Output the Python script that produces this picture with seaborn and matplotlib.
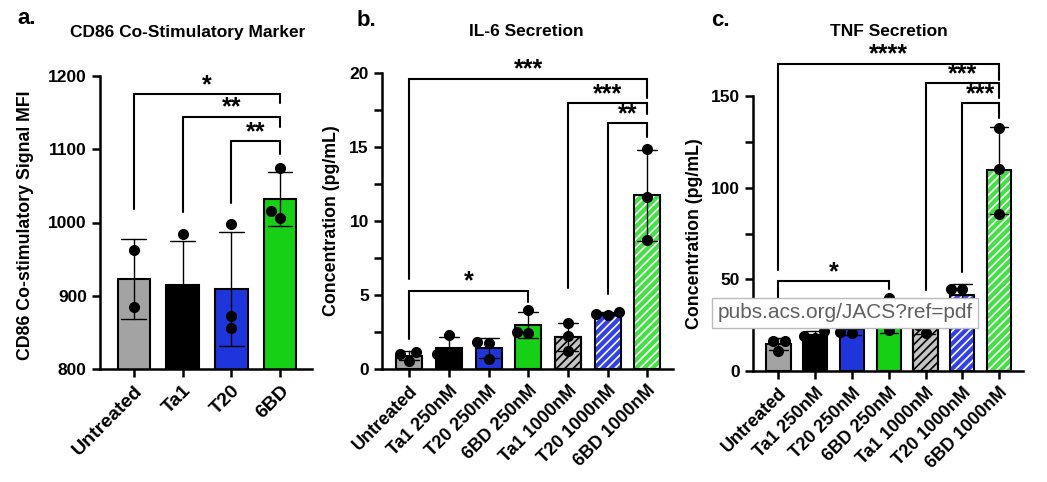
import numpy as np
import pandas as pd
import seaborn as sns
import matplotlib.pyplot as plt
from matplotlib.patches import Rectangle

# replicate values
cd86_groups = ["Untreated", "Ta1", "T20", "6BD"]
cd86_values = [[962, 884], [984, 880, 881], [998, 873, 856], [1074, 1006, 1016]]

conc_groups = ["Untreated", "Ta1 250nM", "T20 250nM", "6BD 250nM",
               "Ta1 1000nM", "T20 1000nM", "6BD 1000nM"]
il6_values = [[1.15, 0.55, 1.0], [2.3, 1.0, 0.95], [1.85, 1.75, 0.65],
              [4.0, 2.4, 2.5], [3.1, 2.25, 1.2], [3.65, 3.85, 3.75],
              [14.85, 11.65, 8.7]]
tnf_values = [[16.5, 16.5, 11.0], [18, 19, 22], [21, 21.5, 27],
              [22.5, 40, 27], [20.5, 25, 30], [45, 45, 34],
              [132.6, 110, 85.6]]

# significance brackets: (left group, right group, bracket y, left leg end, right leg end, label)
cd86_brackets = [(0, 3, 1175, 1018, 1163, "*"), (1, 3, 1144, 1015, 1130, "**"),
                 (2, 3, 1111, 1027, 1094, "**")]
il6_brackets = [(0, 6, 19.6, 6.1, 18.3, "***"), (4, 6, 17.95, 5.5, 17.2, "***"),
                (5, 6, 16.6, 5.1, 15.7, "**"), (0, 3, 5.3, 2.0, 4.5, "*")]
tnf_brackets = [(0, 6, 167.5, 55, 159, "****"), (4, 6, 157, 44, 149, "***"),
                (5, 6, 146, 54, 138, "***"), (0, 3, 49, 35, 45, "*")]

gray, black, blue, green = "#a3a3a3", "#000000", "#1f35dc", "#16d016"
cd86_colors = [gray, black, blue, green]
conc_colors = [gray, black, blue, green, "#c4c4c4", "#3240e8", "#45e045"]
conc_hatch_colors = [None, None, None, None, "black", "white", "white"]

sns.set_style("ticks")
plt.rcParams["font.family"] = ["Liberation Sans", "DejaVu Sans"]
plt.rcParams["font.weight"] = "bold"
plt.rcParams["axes.labelweight"] = "bold"
plt.rcParams["hatch.linewidth"] = 1.2
for key in ["text.color", "axes.labelcolor", "xtick.color", "ytick.color", "axes.edgecolor"]:
    plt.rcParams[key] = "black"


def panel(ax, groups, values, colors, hatch_colors, brackets, ylim, major, minor,
          ylabel, xfs):
    df = pd.DataFrame({"group": np.repeat(groups, [len(v) for v in values]),
                       "value": np.concatenate(values)})
    sns.barplot(data=df, x="group", y="value", hue="group", order=groups,
                hue_order=groups, palette=colors, saturation=1, errorbar="sd",
                capsize=0.5, width=0.66, edgecolor="black", linewidth=1.5,
                legend=False, err_kws={"color": "black", "linewidth": 1}, ax=ax)
    if hatch_colors:
        for bar, hc in zip(ax.patches, hatch_colors):
            if hc is None:
                continue
            bar.set_hatch("////")
            bar.set_edgecolor(hc)
            ax.add_patch(Rectangle(bar.get_xy(), bar.get_width(), bar.get_height(),
                                   fill=False, edgecolor="black", linewidth=1.5,
                                   zorder=bar.get_zorder()))
    sns.swarmplot(data=df, x="group", y="value", order=groups, color="black",
                  size=8, ax=ax, zorder=5)

    for i, j, y, yl, yr, lab in brackets:
        ax.plot([i, i, j, j], [yl, y, y, yr], color="black", lw=1.5,
                clip_on=False, solid_joinstyle="miter")
        ax.annotate(lab, xy=((i + j) / 2, y), xytext=(0, -2), textcoords="offset points",
                    ha="center", va="bottom", fontsize=18, fontweight="bold",
                    annotation_clip=False)

    n = len(groups)
    ax.set_xlim(-0.69, n - 1 + 0.65)
    ax.set_ylim(*ylim)
    ax.set_yticks(major)
    if minor is not None:
        ax.set_yticks(minor, minor=True)
    ax.set_xticks(range(n))
    ax.set_xticklabels(groups, rotation=45, ha="right", rotation_mode="anchor",
                       fontsize=xfs, fontweight="bold")
    ax.tick_params(axis="y", labelsize=12.5, width=1.8, length=6)
    ax.tick_params(axis="y", which="minor", width=1.8, length=6)
    ax.tick_params(axis="x", width=1.8, length=6)
    for side in ["top", "right"]:
        ax.spines[side].set_visible(False)
    for side in ["left", "bottom"]:
        ax.spines[side].set_linewidth(1.8)
    ax.set_xlabel("")
    ax.set_ylabel(ylabel, fontsize=12.8)


W, H = 1047, 482
fig = plt.figure(figsize=(W / 100, H / 100), dpi=100)
ax_a = fig.add_axes([100 / W, 1 - 369 / H, 212 / W, 293 / H])
ax_b = fig.add_axes([382 / W, 1 - 369 / H, 291 / W, 296 / H])
ax_c = fig.add_axes([753 / W, 1 - 371 / H, 270 / W, 275 / H])

panel(ax_a, cd86_groups, cd86_values, cd86_colors, None, cd86_brackets,
      (800, 1200), [800, 900, 1000, 1100, 1200], None,
      "CD86 Co-stimulatory Signal MFI", 14)
panel(ax_b, conc_groups, il6_values, conc_colors, conc_hatch_colors, il6_brackets,
      (0, 20), [0, 5, 10, 15, 20], [2.5, 7.5, 12.5, 17.5],
      "Concentration (pg/mL)", 13)
panel(ax_c, conc_groups, tnf_values, conc_colors, conc_hatch_colors, tnf_brackets,
      (0, 150), [0, 50, 100, 150], [25, 75, 125],
      "Concentration (pg/mL)", 13)

ax_a.yaxis.set_label_coords(-0.311, 0.49)
ax_b.yaxis.set_label_coords(-0.144, 0.5)
ax_c.yaxis.set_label_coords(-0.185, 0.5)

# panel letters and titles
fig.text(27 / W, 1 - 19 / H, "a.", fontsize=16, fontweight="bold", ha="center", va="center")
fig.text(366 / W, 1 - 20 / H, "b.", fontsize=16, fontweight="bold", ha="center", va="center")
fig.text(720 / W, 1 - 21 / H, "c.", fontsize=16, fontweight="bold", ha="center", va="center")
fig.text(188 / W, 1 - 32 / H, "CD86 Co-Stimulatory Marker", fontsize=12.5,
         fontweight="bold", ha="center", va="center")
fig.text(526 / W, 1 - 32 / H, "IL-6 Secretion", fontsize=12.5,
         fontweight="bold", ha="center", va="center")
fig.text(889 / W, 1 - 32 / H, "TNF Secretion", fontsize=12.5,
         fontweight="bold", ha="center", va="center")

# watermark box
fig.text(845 / W, 1 - 313 / H, "pubs.acs.org/JACS?ref=pdf", fontsize=15,
         fontweight="normal", color="#606060", ha="center", va="center", zorder=20,
         bbox=dict(boxstyle="square,pad=0.25", facecolor="white", edgecolor="#bbbbbb",
                   linewidth=1))

fig.savefig("out.png", dpi=100)
